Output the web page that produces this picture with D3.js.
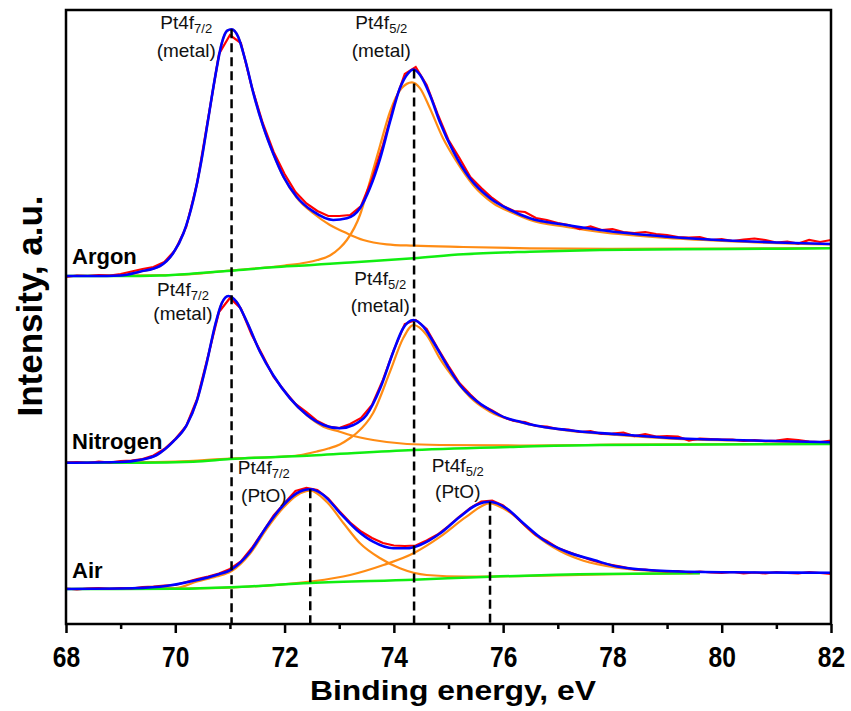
<!DOCTYPE html>
<html>
<head>
<meta charset="utf-8">
<script src="https://cdn.jsdelivr.net/npm/d3@7/dist/d3.min.js"></script>
<style>
  body { margin: 0; background: #fff; }
  text { font-family: Arial, "Liberation Sans", sans-serif; }
</style>
</head>
<body>
<svg id="xps"></svg>
<script>
// binding energy grid of the measured spectra (eV)
var energies = [68.0,68.2,68.4,68.6,68.8,69.0,69.2,69.4,69.6,69.8,
  70.0,70.2,70.4,70.6,70.8,71.0,71.2,71.4,71.6,71.8,
  72.0,72.2,72.4,72.6,72.8,73.0,73.2,73.4,73.6,73.8,
  74.0,74.2,74.4,74.6,74.8,75.0,75.2,75.4,75.6,75.8,
  76.0,76.2,76.4,76.6,76.8,77.0,77.2,77.4,77.6,77.8,
  78.0,78.2,78.4,78.6,78.8,79.0,79.2,79.4,79.6,79.8,
  80.0,80.2,80.4,80.6,80.8,81.0,81.2,81.4,81.6,81.8,
  82.0];

// measured intensity (a.u., curves offset)
var argonRaw = [347,348.5,348,349,348.5,350,352.5,355,357,362,
  374,397,441,505,570,589,581,537,501,472,
  450,432,420.5,413,408,408,409,418,445,479,
  519,550,557,539,510,484,466,447,436,426,
  418,413,412,406,404,401,399,395,397.5,394,
  395,392,391,392,390,389,387,386.5,387,384,
  385,383,384.5,385.5,384,381.5,382.5,380.5,384,382,
  384];
var nitrogenRaw = [161.3,162,161,162.5,161.5,163,163.5,165,168.5,175,
  185,198,225,268,312,326,315.5,289,268.5,247,
  233,220,212,203,197.5,196,200,206,219,244,
  274,300,304,295,276,258,241,229.5,219,213.5,
  207,203,202,198,197.5,195,194.5,192,193,190,
  190.5,191.5,188,190,187.5,188,187.5,183.5,185.5,185,
  184.5,184.5,183,184,182.8,183.5,185,184,182.5,182,
  183.3];
var airRaw = [35.5,34.5,35.5,36,35,36,35.5,37,37.5,38.5,
  39,42,45,47.5,50.5,55,62.5,76,92,108.5,
  121,133,136,134,125.5,113,101.5,92.5,86,81,
  78.5,78,78.5,83.5,89.5,98,107.5,116,122.5,123.5,
  118.5,109,98.5,89,83,76,72,68,64,61,
  59,57,54.5,54.5,53,52.5,53,51.5,52.5,51.5,
  51,52,50.5,51.5,50.5,52,51,50.5,52,51,
  50];

// fitted envelopes [eV, intensity]
var argonFit = [[68.0,348],[68.5,348],[69.0,348.5],[69.35,352.3],[69.72,358],[69.96,370.7],[70.15,390.7],
  [70.33,424],[70.48,464],[70.6,504],[70.73,547.3],[70.85,580.7],[70.95,593.3],[71.03,594.7],[71.15,587.3],
  [71.28,564],[71.43,530.7],[71.61,497.3],[71.79,470.7],[71.98,447.3],[72.22,427.3],[72.53,412.3],
  [72.89,404],[73.14,405.7],[73.38,415.7],[73.56,435.7],[73.75,465.7],[73.93,502.3],[74.11,535.7],
  [74.26,550.7],[74.36,554.5],[74.48,549],[74.66,529],[74.84,502.3],[75.09,472.3],[75.39,445.7],
  [75.76,425.7],[76.13,414],[76.49,405.7],[77.16,399],[77.77,394],[79.0,387.3],[80.2,383.3],[81.0,381.5],[82.0,380]];
var nitrogenFit = [[68.0,161.3],[69.0,162],[69.35,164],[69.66,169],[69.96,182.3],[70.21,199],[70.39,222.3],
  [70.58,262.3],[70.73,299],[70.85,320.7],[70.97,328],[71.12,322.3],[71.31,302.3],[71.55,272.3],[71.79,249],
  [72.1,225.7],[72.41,209],[72.71,199],[73.01,195.7],[73.26,199],[73.5,209],[73.75,235.7],[73.99,272.3],
  [74.17,295.7],[74.36,304],[74.54,297.3],[74.72,282.3],[74.97,259],[75.21,239],[75.45,225.7],[75.76,214],
  [76.07,205.7],[76.31,202.3],[76.55,199],[77.16,194],[78.08,189.7],[78.99,186.3],[80.2,184],[82.0,181.7]];
var airFit = [[68.0,35],[69.0,35.5],[69.72,37.3],[70.4,44],[70.75,49],[71.03,54.7],[71.37,72.3],[71.67,97.3],
  [71.98,119],[72.22,130.7],[72.47,134.7],[72.71,129],[73.02,110.7],[73.32,94],[73.62,82.3],[73.99,75.7],
  [74.24,75.7],[74.48,79],[74.85,90.7],[75.21,107.3],[75.51,119],[75.75,122.3],[76.06,115.7],[76.37,100.7],
  [76.74,84],[77.16,72.3],[77.66,64],[78.08,57.5],[78.99,53],[80.2,51.7],[82.0,51.3]];

// fitted components: Pt4f7/2 and Pt4f5/2
var argonPeak1 = [[68.0,348],[69.0,348.5],[69.35,352.3],[69.72,358],[69.96,370.7],[70.15,390.7],[70.33,424],
  [70.48,464],[70.6,504],[70.73,547.3],[70.85,580.7],[70.95,593.3],[71.03,594.7],[71.15,587.3],[71.28,564],
  [71.43,530.7],[71.61,497.3],[71.79,470.7],[71.98,447],[72.22,426.5],[72.53,410.5],[72.83,399],[73.14,390.7],
  [73.44,384],[73.87,379.7],[74.36,378.3],[75.27,377],[76.49,375.7],[78.0,375.2],[80.0,375.5],[82.0,376]];
var argonPeak2 = [[68.0,348],[70.0,349],[71.0,353.5],[72.0,358.5],[72.4,361.5],[72.6,364],[72.83,368.5],
  [73.01,376],[73.14,384],[73.38,409],[73.56,442.3],[73.75,479],[73.93,512.3],[74.14,535.7],[74.33,541.7],
  [74.48,535.7],[74.66,515.7],[74.9,485.7],[75.15,462.3],[75.45,439],[75.82,420.7],[76.19,410.7],[76.49,404],
  [77.16,397],[77.77,392],[79.0,386],[80.2,382.5],[82.0,379.5]];
var nitrogenPeak1 = [[68.0,161.3],[69.0,162],[69.35,164],[69.66,169],[69.96,182.3],[70.21,199],[70.39,222.3],
  [70.58,262.3],[70.73,299],[70.85,320.7],[70.97,328],[71.12,322.3],[71.31,302.3],[71.55,272.3],[71.79,249],
  [72.1,225.5],[72.41,208.5],[72.71,197.3],[73.01,192.3],[73.2,189],[73.62,184],[74.24,180],[74.84,179],
  [76.31,178.5],[78.0,179.3],[82.0,180.3]];
var nitrogenPeak2 = [[68.0,161.3],[70.0,162.5],[71.0,165.5],[72.0,167.5],[72.3,169],[72.59,172.5],[72.8,175.5],
  [73.01,179.5],[73.2,186],[73.32,191],[73.62,211],[73.93,252.3],[74.17,285.7],[74.36,299],[74.6,289],[74.84,265.7],
  [75.15,242.3],[75.45,224],[75.76,212.3],[76.31,201.7],[77.16,193.5],[78.08,189],[79.0,185.7],[80.2,183.5],[82.0,181.5]];
var airPeak1 = [[68.0,35],[70.0,36],[70.4,42.5],[70.75,47.5],[71.03,53],[71.37,70.5],[71.67,95],[71.98,116.5],
  [72.22,128.5],[72.47,133.3],[72.77,122.3],[73.08,100.7],[73.38,80.7],[73.75,65.7],[74.11,55.7],[74.6,49],
  [75.33,47.3],[76.5,48.2],[78.0,49.8],[79.6,50.8]];
var airPeak2 = [[68.0,35],[70.0,35.5],[71.07,36.7],[72.47,42.3],[73.2,49],[73.81,59],[74.36,70.7],[74.85,87.3],
  [75.33,107.3],[75.75,120.7],[76.13,111.3],[76.55,90.7],[77.04,73],[77.47,63.3],[78.08,56.3],[79.0,52.5],[79.6,51.5]];

// Shirley backgrounds
var argonBg = [[68.0,348],[69.0,348],[69.72,348.5],[70.4,350.7],[71.03,353.3],[71.79,356.7],[72.5,359],
  [72.83,360.3],[73.2,361.6],[74.36,365.7],[75.27,369.7],[76.49,372.3],[77.77,374],[80.2,375],[82.0,375.7]];
var nitrogenBg = [[68.0,161.3],[69.35,161.3],[70.33,162.3],[71.0,165],[72.41,168.3],[74.36,174],[76.31,177.3],
  [77.77,179],[82.0,180]];
var airBg = [[68.0,35],[70.0,35.2],[70.45,35.7],[71.03,36.7],[72.47,41],[74.36,44.3],[75.77,47.3],[77.77,50],[79.6,50.7]];

// peak positions marked with dashed lines
var markEnergy = [71.03, 74.37, 72.47, 75.76];
var markTop = [594.7, 554.5, 134.7, 122.3];

var sampleNames = ['Argon', 'Nitrogen', 'Air'];
var majorTicks = [68, 70, 72, 74, 76, 78, 80, 82];
var minorTicks = [69, 71, 73, 75, 77, 79, 81];

var width = 851, height = 711;
var margins = {top: 10, right: 20, bottom: 87, left: 66};

var svg = d3.select('#xps')
  .attr('width', width)
  .attr('height', height);

svg.append('rect').attr('width', width).attr('height', height).attr('fill', '#fff');

var x = d3.scaleLinear().domain([68, 82]).range([margins.left, width - margins.right]);
var y = d3.scaleLinear().domain([0, 614]).range([height - margins.bottom, margins.top]);

svg.append('clipPath').attr('id', 'clip')
  .append('rect')
  .attr('x', margins.left).attr('y', margins.top)
  .attr('width', x(82) - x(68)).attr('height', y(0) - y(614));

var plot = svg.append('g').attr('clip-path', 'url(#clip)');

var pairLine = d3.line()
  .x(d => x(d[0]))
  .y(d => y(d[1]))
  .curve(d3.curveMonotoneX);

var rawLine = d3.line()
  .x((d, i) => x(energies[i]))
  .y(d => y(d));

var samples = [
  {raw: argonRaw, fit: argonFit, peaks: [argonPeak1, argonPeak2], bg: argonBg},
  {raw: nitrogenRaw, fit: nitrogenFit, peaks: [nitrogenPeak1, nitrogenPeak2], bg: nitrogenBg},
  {raw: airRaw, fit: airFit, peaks: [airPeak1, airPeak2], bg: airBg}
];

samples.forEach(function (s) {
  s.peaks.forEach(function (p) {
    plot.append('path').attr('d', pairLine(p))
      .attr('fill', 'none').attr('stroke', '#ff8c14').attr('stroke-width', 2.2);
  });
  plot.append('path').attr('d', pairLine(s.bg))
    .attr('fill', 'none').attr('stroke', '#11ee11').attr('stroke-width', 2.5);
  plot.append('path').attr('d', rawLine(s.raw))
    .attr('fill', 'none').attr('stroke', '#ff0000').attr('stroke-width', 2.2);
  plot.append('path').attr('d', pairLine(s.fit))
    .attr('fill', 'none').attr('stroke', '#0000ff').attr('stroke-width', 2.6);
});

// dashed markers
svg.selectAll('.mark')
  .data(markEnergy)
  .enter()
  .append('line')
  .attr('class', 'mark')
  .attr('x1', d => x(d)).attr('x2', d => x(d))
  .attr('y1', (d, i) => y(markTop[i])).attr('y2', y(0))
  .attr('stroke', '#000')
  .attr('stroke-width', 2.5)
  .attr('stroke-dasharray', '9,5');

// peak labels
var labels = [
  {e: 70.2, l1: 595, l2: 567, sub: '7/2', state: '(metal)'},
  {e: 73.77, l1: 595, l2: 567, sub: '5/2', state: '(metal)'},
  {e: 70.14, l1: 328, l2: 304, sub: '7/2', state: '(metal)'},
  {e: 73.75, l1: 339, l2: 312, sub: '5/2', state: '(metal)'},
  {e: 71.62, l1: 150, l2: 122, sub: '7/2', state: '(PtO)'},
  {e: 75.17, l1: 152, l2: 126, sub: '5/2', state: '(PtO)'}
];

labels.forEach(function (d) {
  var t = svg.append('text')
    .attr('x', x(d.e)).attr('y', y(d.l1))
    .attr('text-anchor', 'middle')
    .style('font-size', '19px')
    .attr('fill', '#111');
  t.append('tspan').text('Pt4f');
  t.append('tspan').attr('dy', 4).style('font-size', '13px').text(d.sub);
  svg.append('text')
    .attr('x', x(d.e)).attr('y', y(d.l2))
    .attr('text-anchor', 'middle')
    .style('font-size', '19px')
    .attr('fill', '#111')
    .text(d.state);
});

// sample names
var namePos = [360, 175, 46];
svg.selectAll('.name')
  .data(sampleNames)
  .enter()
  .append('text')
  .attr('class', 'name')
  .attr('x', 72)
  .attr('y', (d, i) => y(namePos[i]))
  .style('font-size', '22px')
  .style('font-weight', 'bold')
  .text(d => d);

// axes
var xAxis = svg.append('g')
  .attr('transform', 'translate(0,' + y(0) + ')')
  .call(d3.axisBottom(x).tickValues(majorTicks).tickSize(9).tickPadding(13).tickFormat(d3.format('d')));
xAxis.select('.domain').remove();
xAxis.selectAll('line').attr('stroke-width', 2.5);
xAxis.selectAll('text')
  .style('font-size', '30px')
  .style('font-weight', 'bold')
  .attr('transform', 'scale(0.82,1)')
  .attr('fill', '#000');

var xMinor = svg.append('g')
  .attr('transform', 'translate(0,' + y(0) + ')')
  .call(d3.axisBottom(x).tickValues(minorTicks).tickSize(5).tickFormat(''));
xMinor.select('.domain').remove();
xMinor.selectAll('line').attr('stroke-width', 2.5);

svg.append('rect')
  .attr('x', x(68)).attr('y', y(614))
  .attr('width', x(82) - x(68)).attr('height', y(0) - y(614))
  .attr('fill', 'none')
  .attr('stroke', '#000')
  .attr('stroke-width', 2.5);

svg.append('text')
  .attr('x', 310)
  .attr('y', 700)
  .attr('textLength', 286)
  .attr('lengthAdjust', 'spacingAndGlyphs')
  .style('font-size', '28px')
  .style('font-weight', 'bold')
  .text('Binding energy, eV');

svg.append('text')
  .attr('transform', 'translate(42,306) rotate(-90)')
  .attr('text-anchor', 'middle')
  .style('font-size', '35px')
  .style('font-weight', 'bold')
  .text('Intensity, a.u.');
</script>
</body>
</html>
